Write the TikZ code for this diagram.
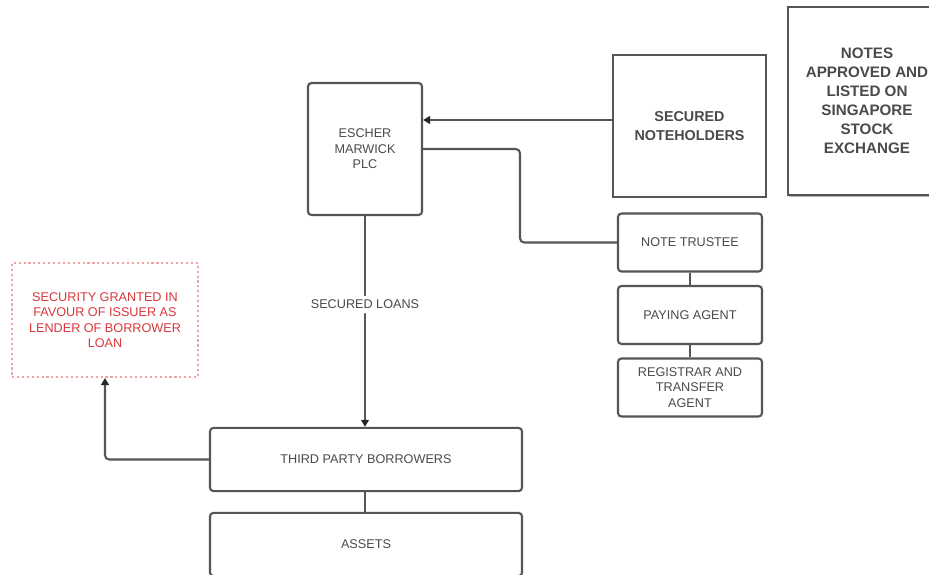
\documentclass[tikz,border=0pt]{standalone}
\usepackage{fontspec}
\setmainfont{Liberation Sans}
\usepackage{tikz}
\usetikzlibrary{shadows, arrows.meta}

\definecolor{boxline}{HTML}{555555}
\definecolor{boxtext}{HTML}{4A4A4A}
\definecolor{secred}{HTML}{D8383C}

\begin{document}
\begin{tikzpicture}[x=0.025cm, y=-0.025cm,
    every node/.style={draw=boxline, line width=1.5pt, text=boxtext, align=center, inner sep=2pt},
    party/.style={rectangle, rounded corners=2.5pt, font=\fontsize{9}{11}\selectfont},
    agent/.style={party, minimum width=3.6cm, minimum height=1.45cm},
    link/.style={draw=boxline, line width=1.5pt, rounded corners=3pt},
    tip/.style={-{Triangle[length=5pt, width=5.5pt, color=black!85]}}]
        \useasboundingbox[fill=white] (0,0) rectangle (929,574);

        % Nodes
        \node (Escher) [party, minimum width=2.85cm, minimum height=3.3cm] at (365,149) {ESCHER\\MARWICK\\PLC};
        \node (Holders) [rectangle, minimum width=3.83cm, minimum height=3.55cm, font=\bfseries\fontsize{10.2}{13.5}\selectfont] at (689.5,126) {SECURED\\NOTEHOLDERS};
        \node (Listed) [rectangle, minimum width=3.95cm, minimum height=4.7cm, font=\bfseries\fontsize{10.8}{13.5}\selectfont,
            fill=white, drop shadow={shadow xshift=1pt, shadow yshift=-1.5pt, opacity=0.6}] at (867,101)
            {NOTES\\APPROVED AND\\LISTED ON\\SINGAPORE\\STOCK\\EXCHANGE};
        \node (Trustee) [agent] at (690,242.5) {NOTE TRUSTEE};
        \node (Paying) [agent] at (690,315) {PAYING AGENT};
        \node (Registrar) [agent] at (690,387.5) {REGISTRAR AND\\TRANSFER\\AGENT};
        \node (Borrowers) [party, minimum width=7.8cm, minimum height=1.58cm] at (366,459.5) {THIRD PARTY BORROWERS};
        \node (Assets) [party, minimum width=7.8cm, minimum height=1.58cm] at (366,544.5) {ASSETS};
        \node (Security) [rectangle, draw=secred!45, dotted, line width=1.4pt, text=secred, minimum width=4.65cm, minimum height=2.85cm,
            font=\fontsize{9}{11}\selectfont] at (105,320) {SECURITY GRANTED IN\\FAVOUR OF ISSUER AS\\LENDER OF BORROWER\\LOAN};

        % Arrows
        \draw[link, tip] (Holders.west |- 0,120) -- (Escher.east |- 0,120);
        \draw[link] (Escher.east |- 0,149) -| (520,242.5) -- (Trustee.west);
        \draw[link] (Trustee) -- (Paying);
        \draw[link] (Paying) -- (Registrar);
        \draw[link, tip] (Escher.south) -- (Borrowers.north -| Escher.south)
            node [pos=0.42, draw=none, fill=white, font=\fontsize{9}{11}\selectfont, inner sep=3pt] (Loans) {SECURED LOANS};
        \draw[link, tip] (Borrowers.west) -| (Security.south);
        \draw[link] (Borrowers.south -| Escher.south) -- (Assets.north -| Escher.south);
    \end{tikzpicture}
\end{document}
